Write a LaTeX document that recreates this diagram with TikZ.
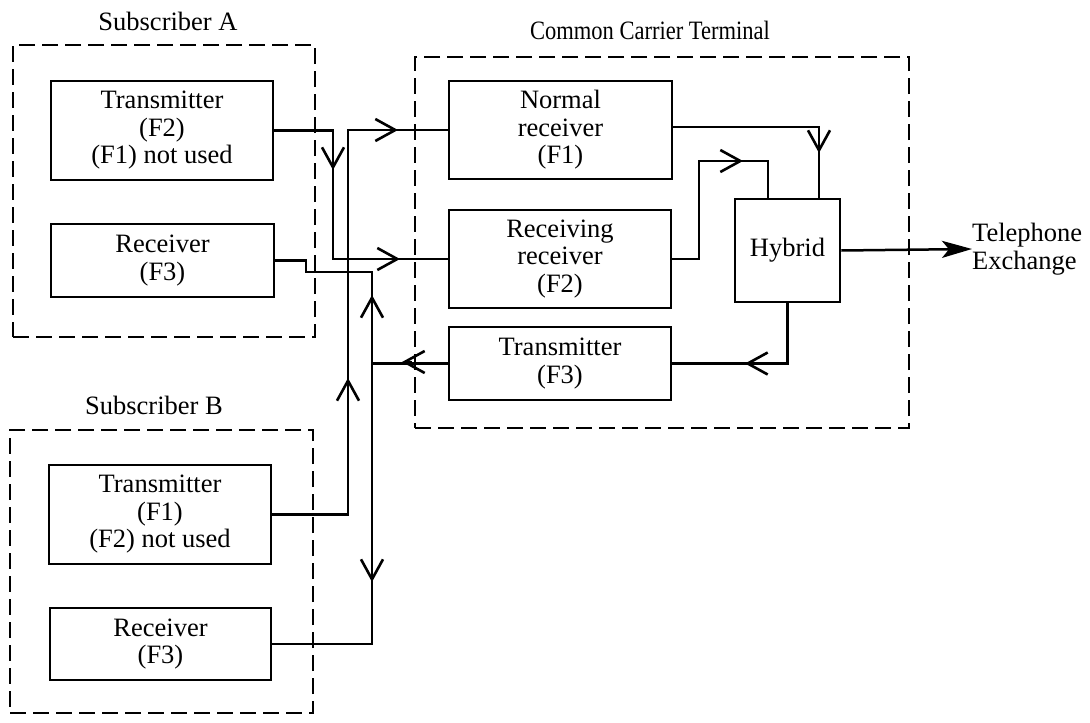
\documentclass[tikz,border=0pt]{standalone}
\usepackage{fontspec}
\setmainfont{Liberation Serif}
\usetikzlibrary{arrows.meta}
\begin{document}
\begin{tikzpicture}[x=1pt,y=-1pt,
  font=\fontsize{26.5}{27.5}\selectfont,
  box/.style={draw, line width=2.5pt, rectangle, inner sep=0pt, align=center},
  group/.style={draw, line width=2.7pt, dash pattern=on 16pt off 7pt, inner sep=0pt},
  wire/.style={line width=2.5pt},
  barb/.style={line width=2.6pt, -{Straight Barb[length=20pt,width=22pt]}},
  title/.style={anchor=base, inner sep=0pt},
]
\useasboundingbox (0,0) rectangle (1090,723);

% dashed enclosures
\node[group, minimum width=302pt, minimum height=292pt] (subA) at (164,191) {};
\node[group, minimum width=303pt, minimum height=283pt] (subB) at (161.5,571.5) {};
\node[group, minimum width=494pt, minimum height=371pt] (cct) at (662,242.5) {};

% enclosure titles
\node[title] (tA) at (168,30) {Subscriber A};
\node[title] (tB) at (154,414) {Subscriber B};
\node[title] (tC) at (650,39) {\scalebox{0.85}[1]{Common Carrier Terminal}};

% subscriber equipment
\node[box, minimum width=222pt, minimum height=99pt] (txA) at (162,130.5) {Transmitter\\(F2)\\(F1) not used};
\node[box, minimum width=223pt, minimum height=73pt] (rxA) at (162.5,260.5) {Receiver\\(F3)};
\node[box, minimum width=222pt, minimum height=99pt] (txB) at (160,514.5) {Transmitter\\(F1)\\(F2) not used};
\node[box, minimum width=221pt, minimum height=72pt] (rxB) at (160.5,644) {Receiver\\(F3)};

% carrier terminal equipment
\node[box, minimum width=223pt, minimum height=98pt] (nrx) at (560.5,130) {Normal\\receiver\\(F1)};
\node[box, minimum width=222pt, minimum height=98pt] (rrx) at (560,259) {Receiving\\receiver\\(F2)};
\node[box, minimum width=222pt, minimum height=73pt] (txC) at (560,363.5) {Transmitter\\(F3)};
\node[box, minimum width=105pt, minimum height=103pt] (hyb) at (787.5,250.5) {Hybrid};
\node[anchor=west, inner sep=0pt, align=left] (tel) at (972,249) {Telephone\\Exchange};

% bus lines and bends
\coordinate (busA) at (333,0);
\coordinate (busB) at (348,0);
\coordinate (busC) at (372,0);
\coordinate (jogA) at (306,272);
\coordinate (riseR) at (699,161);
\coordinate (hybL) at ([xshift=-19.5pt]hyb.north);
\coordinate (hybR) at ([xshift=31.5pt]hyb.north);

% wiring
\draw[wire] (txA.east) -| (busA |- rrx.west) -- (rrx.west);
\draw[wire] (txB.east) -| (busB |- nrx.west) -- (nrx.west);
\draw[wire] (rxA.east) -| (jogA) -- (busC |- jogA) -- (busC |- txC.west) -- (txC.west);
\draw[wire] (busC |- txC.west) |- (rxB.east);
\draw[wire] ([yshift=3pt]nrx.east) -| (hybR);
\draw[wire] (rrx.east) -| (riseR) -| (hybL);
\draw[wire] (hyb.south) |- (txC.east);
\draw[wire, -{Stealth[length=30pt,width=17pt,inset=7pt]}] (hyb.east) -- (tel.west);

% direction marks along the wires
\coordinate (m1) at (333,170);
\coordinate (m2) at (400,259);
\coordinate (m3) at (398,130);
\coordinate (m4) at (348,378);
\coordinate (m5) at (372,295);
\coordinate (m6) at (402,362);
\coordinate (m7) at (372,582);
\coordinate (m8) at (819,153);
\coordinate (m9) at (743,161);
\coordinate (m10) at (745,363.5);
\draw[barb] ([yshift=10pt]m1) -- (m1);
\draw[barb] ([xshift=-10pt]m2) -- (m2);
\draw[barb] ([xshift=-10pt]m3) -- (m3);
\draw[barb] ([yshift=-10pt]m4) -- (m4);
\draw[barb] ([yshift=-10pt]m5) -- (m5);
\draw[barb] ([xshift=10pt]m6) -- (m6);
\draw[barb] ([yshift=10pt]m7) -- (m7);
\draw[barb] ([yshift=10pt]m8) -- (m8);
\draw[barb] ([xshift=-10pt]m9) -- (m9);
\draw[barb] ([xshift=10pt]m10) -- (m10);
\end{tikzpicture}
\end{document}
